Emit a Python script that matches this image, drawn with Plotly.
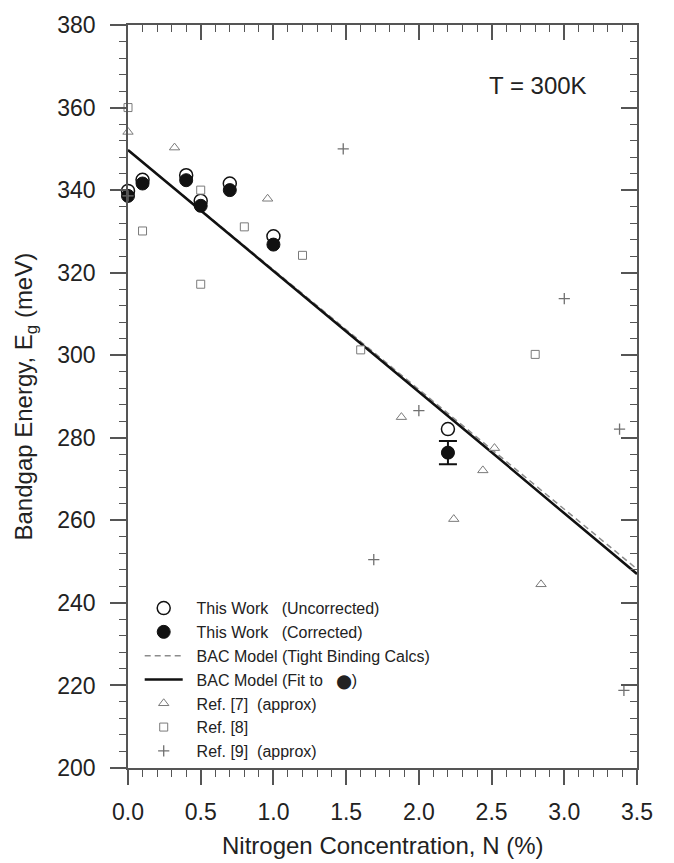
import plotly.graph_objects as go

# ---- data ----
work_x = [0.0, 0.1, 0.4, 0.5, 0.7, 1.0, 2.2]
work_uncorr = [339.8, 342.5, 343.6, 337.4, 341.6, 328.8, 282.1]
work_corr = [338.6, 341.6, 342.4, 336.2, 340.0, 326.8, 276.4]
err_x = [2.2]
err_y = [276.4]
err_plus = [2.8]
err_minus = [2.8]

bac_x = [0.0, 0.5, 1.0, 1.5, 2.0, 2.5, 3.0, 3.5]
bac_tb = [349.7, 335.2, 320.7, 306.1, 291.6, 277.1, 262.6, 248.2]
bac_fit = [349.7, 335.1, 320.5, 305.9, 291.2, 276.5, 261.7, 247.0]

ref7_x = [0.0, 0.32, 0.96, 1.88, 2.24, 2.44, 2.52, 2.84]
ref7_y = [354.1, 350.3, 337.9, 285.0, 260.3, 272.1, 277.5, 244.5]

ref8_x = [0.0, 0.1, 0.5, 0.5, 0.8, 1.2, 1.6, 2.8]
ref8_y = [360.0, 330.1, 340.0, 317.2, 331.1, 324.2, 301.3, 300.2]

ref9_x = [0.0, 1.48, 1.69, 2.0, 3.0, 3.38, 3.41]
ref9_y = [338.6, 350.0, 250.5, 286.6, 313.7, 282.1, 218.8]

x_ticks = [0.0, 0.5, 1.0, 1.5, 2.0, 2.5, 3.0, 3.5]
x_ticklabels = ["0.0", "0.5", "1.0", "1.5", "2.0", "2.5", "3.0", "3.5"]
y_ticks = [200, 220, 240, 260, 280, 300, 320, 340, 360, 380]

FONT = "Liberation Sans, Arial, Helvetica, sans-serif"
GREY = "#7a7a7a"
AX = "#555555"
SP = "\u00a0\u00a0"

fig = go.Figure()

# lines (drawn first)
fig.add_trace(go.Scatter(
    x=bac_x, y=bac_tb, mode="lines",
    line=dict(color="#8c8c8c", width=1.5, dash="6px,4px"),
    name=SP + "BAC Model (Tight Binding Calcs)", legendrank=3))
fig.add_trace(go.Scatter(
    x=bac_x, y=bac_fit, mode="lines",
    line=dict(color="#111111", width=2.5),
    name=SP + "BAC Model (Fit to\u00a0\u00a0\u00a0<span style='font-family:DejaVu Sans;font-size:14px'>\u2B24</span>)",
    legendrank=4))

# this work
fig.add_trace(go.Scatter(
    x=work_x, y=work_uncorr, mode="markers", cliponaxis=False,
    marker=dict(symbol="circle", size=13, color="white",
                line=dict(color="#111111", width=1.5)),
    name=SP + "This Work\u00a0\u00a0\u00a0(Uncorrected)", legendrank=1))
fig.add_trace(go.Scatter(
    x=work_x, y=work_corr, mode="markers", cliponaxis=False,
    marker=dict(symbol="circle", size=13, color="#111111",
                line=dict(color="#111111", width=1)),
    name=SP + "This Work\u00a0\u00a0\u00a0(Corrected)", legendrank=2))
fig.add_trace(go.Scatter(
    x=err_x, y=err_y, mode="markers", cliponaxis=False, showlegend=False,
    marker=dict(symbol="circle", size=13, color="#111111"),
    error_y=dict(type="data", array=err_plus, arrayminus=err_minus,
                 color="#111111", thickness=2, width=9)))

# references
fig.add_trace(go.Scatter(
    x=ref7_x, y=ref7_y, mode="markers", cliponaxis=False,
    marker=dict(symbol="triangle-up", size=9, color="white",
                line=dict(color=GREY, width=1)),
    name=SP + "Ref. [7]\u00a0\u00a0(approx)", legendrank=5))
fig.add_trace(go.Scatter(
    x=ref8_x, y=ref8_y, mode="markers", cliponaxis=False,
    marker=dict(symbol="square", size=8, color="white",
                line=dict(color=GREY, width=1)),
    name=SP + "Ref. [8]", legendrank=6))
fig.add_trace(go.Scatter(
    x=ref9_x, y=ref9_y, mode="markers", cliponaxis=False,
    marker=dict(symbol="cross-thin-open", size=8, color="#707070",
                line=dict(color="#707070", width=1.3)),
    name=SP + "Ref. [9]\u00a0\u00a0(approx)", legendrank=7))

# invisible trace on mirror axes so they render
fig.add_trace(go.Scatter(x=[None], y=[None], xaxis="x2", yaxis="y2",
                         showlegend=False, hoverinfo="skip"))

common_x = dict(range=[0, 3.5], tickvals=x_ticks, showgrid=False, zeroline=False,
                linecolor=AX, linewidth=1.5, tickcolor=AX, tickwidth=1.5, ticklen=15)
common_y = dict(range=[200, 380], tickvals=y_ticks, showgrid=False, zeroline=False,
                linecolor=AX, linewidth=1.5, tickcolor=AX, tickwidth=1.5, ticklen=16)
minor_x = dict(dtick=0.1, tick0=0, ticklen=7, tickcolor=AX, tickwidth=1.2, showgrid=False)
minor_y = dict(dtick=4, tick0=200, ticklen=7, tickcolor=AX, tickwidth=1.2, showgrid=False)

fig.update_layout(
    width=674, height=863,
    margin=dict(l=128, r=37, t=12, b=95),
    paper_bgcolor="white", plot_bgcolor="white",
    font=dict(family=FONT, color="#222222", size=23),
    showlegend=True,
    legend=dict(x=0.0230, y=0.238, xanchor="left", yanchor="top",
                bgcolor="rgba(0,0,0,0)", borderwidth=0,
                font=dict(size=16, family=FONT, color="#222222"),
                traceorder="normal", itemwidth=38, tracegroupgap=0),
    xaxis=dict(**common_x, ticks="outside", ticktext=x_ticklabels,
               showline=True, ticklabelstandoff=8, ticklabeloverflow="allow",
               minor=dict(**minor_x, ticks="outside")),
    yaxis=dict(**common_y, ticks="outside", showline=True, ticklabelstandoff=10,
               ticklabeloverflow="allow",
               minor=dict(**minor_y, ticks="outside")),
    xaxis2=dict(**common_x, overlaying="x", side="top", ticks="inside",
                showticklabels=False, showline=True,
                minor=dict(**minor_x, ticks="inside")),
    yaxis2=dict(**common_y, overlaying="y", side="right", ticks="inside",
                showticklabels=False, showline=True,
                minor=dict(**minor_y, ticks="inside")),
    annotations=[
        dict(text="T = 300K", x=0.806, y=0.918, xref="paper", yref="paper",
             showarrow=False, font=dict(size=24, color="#222222"),
             xanchor="center", yanchor="middle"),
        dict(text="Nitrogen Concentration, N (%)", x=0.5, y=0, xref="paper",
             yref="paper", showarrow=False, font=dict(size=24, color="#222222"),
             xanchor="center", yanchor="top", yshift=-62),
        dict(text="Bandgap Energy, E<sub>g</sub> (meV)", x=0, y=0.5, xref="paper",
             yref="paper", showarrow=False, textangle=-90,
             font=dict(size=24, color="#222222"),
             xanchor="center", yanchor="middle", xshift=-103),
    ],
)

fig.write_html("out.html", config={"displayModeBar": False},
               post_script="document.body.style.margin='0px';document.body.style.padding='0px';")
